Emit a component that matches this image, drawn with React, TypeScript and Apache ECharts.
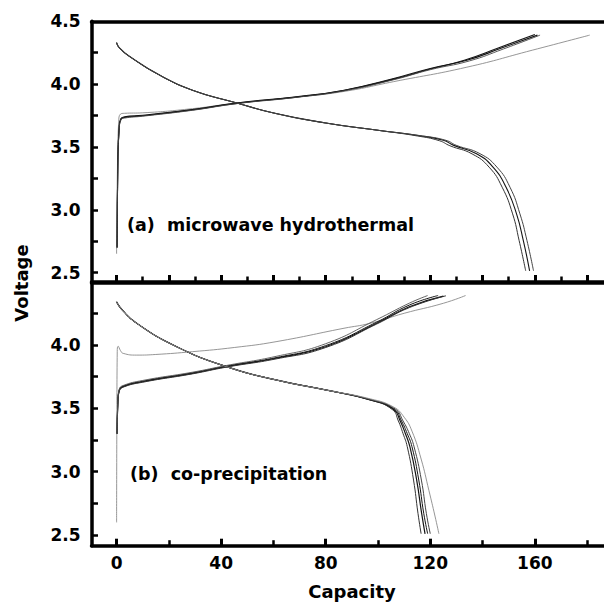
import React, { useEffect, useRef } from "react";
import * as echarts from "echarts";

// ---------- axis values ----------
const xMin = -9.6;
const xMax = 200;
const xMajorTicks = [0, 20, 40, 60, 80, 100, 120, 140, 160, 180];
const xMinorTicks = [10, 30, 50, 70, 90, 110, 130, 150, 170];
const xLabelValues = [0, 40, 80, 120, 160];
const xBottomMinor = [20, 60, 100, 140, 180];
const yTopLabels = [2.5, 3.0, 3.5, 4.0, 4.5];
const yTopTicks = [2.5, 2.75, 3.0, 3.25, 3.5, 3.75, 4.0, 4.25];
const yBotLabels = [2.5, 3.0, 3.5, 4.0];
const yBotTicks = [2.5, 2.75, 3.0, 3.25, 3.5, 3.75, 4.0, 4.25];

// ---------- panel (a): microwave hydrothermal ----------
const aChargeFirstC = [0, 0.3, 0.8, 1.5, 3, 10, 29, 46, 68, 87, 106, 134, 159, 181];
const aChargeFirstV = [2.65, 3.3, 3.7, 3.762, 3.768, 3.772, 3.805, 3.85, 3.895, 3.942, 4.02, 4.135, 4.27, 4.39];

const aCharge2C = [0.2, 0.5, 1, 1.6, 3, 10, 29, 46, 68, 87, 106, 120, 134, 147, 161];
const aCharge2V = [2.7, 3.4, 3.66, 3.725, 3.74, 3.752, 3.798, 3.85, 3.898, 3.952, 4.045, 4.125, 4.19, 4.285, 4.39];
const aCharge3C = [0.2, 0.5, 1, 1.7, 3, 10, 29, 46, 68, 87, 106, 120, 133, 146, 160];
const aCharge3V = [2.7, 3.38, 3.65, 3.72, 3.735, 3.748, 3.795, 3.847, 3.895, 3.95, 4.04, 4.12, 4.19, 4.287, 4.395];
const aCharge4C = [0.2, 0.5, 1, 1.6, 3, 10, 29, 46, 68, 87, 106, 120, 135, 148, 162];
const aCharge4V = [2.7, 3.36, 3.64, 3.715, 3.73, 3.745, 3.792, 3.845, 3.893, 3.947, 4.035, 4.115, 4.185, 4.28, 4.39];

const aDis1C = [0, 1, 5, 16.6, 29, 46, 61, 80, 100, 116, 125, 129, 137.7, 144, 149, 153, 155.6, 158];
const aDis1V = [4.33, 4.29, 4.22, 4.07, 3.952, 3.85, 3.766, 3.691, 3.633, 3.59, 3.553, 3.513, 3.447, 3.34, 3.18, 2.968, 2.755, 2.515];
const aDis2C = [0, 1, 5, 16.6, 29, 46, 61, 80, 100, 115, 123.5, 127.5, 136, 142.5, 147.5, 151.5, 154, 156.5];
const aDis2V = [4.33, 4.29, 4.22, 4.07, 3.952, 3.85, 3.766, 3.691, 3.633, 3.588, 3.55, 3.51, 3.445, 3.34, 3.18, 2.968, 2.755, 2.515];
const aDis3C = [0, 1, 5, 16.6, 29, 46, 61, 80, 100, 117, 126, 130, 139, 145.5, 150.5, 154.3, 157, 159.5];
const aDis3V = [4.33, 4.29, 4.22, 4.07, 3.952, 3.85, 3.766, 3.691, 3.633, 3.588, 3.553, 3.513, 3.447, 3.34, 3.18, 2.968, 2.755, 2.515];

// ---------- panel (b): co-precipitation ----------
const bChargeFirstC = [0, 0.1, 0.25, 0.6, 1.5, 2.5, 7.7, 15, 29, 45, 61, 87, 97, 110, 125, 133.5];
const bChargeFirstV = [2.6, 3.4, 3.95, 3.99, 3.955, 3.934, 3.92, 3.925, 3.947, 3.98, 4.026, 4.132, 4.171, 4.25, 4.329, 4.39];

const bCharge1C = [0.2, 0.5, 1, 2.5, 10, 29, 42, 61, 80, 99.5, 112, 125];
const bCharge1V = [3.3, 3.55, 3.64, 3.671, 3.71, 3.776, 3.829, 3.895, 3.986, 4.171, 4.302, 4.386];
const bCharge2C = [0.2, 0.5, 1, 2.5, 10, 29, 42, 61, 80, 99.5, 112, 123];
const bCharge2V = [3.3, 3.55, 3.645, 3.675, 3.714, 3.78, 3.833, 3.9, 3.995, 4.18, 4.315, 4.39];
const bCharge3C = [0.2, 0.5, 1, 2.5, 10, 29, 42, 61, 80, 99.5, 112, 126];
const bCharge3V = [3.3, 3.54, 3.635, 3.667, 3.706, 3.772, 3.825, 3.89, 3.98, 4.165, 4.295, 4.388];
const bCharge4C = [0.2, 0.5, 1, 2.5, 10, 29, 42, 61, 80, 99.5, 112, 119];
const bCharge4V = [3.3, 3.56, 3.65, 3.68, 3.72, 3.785, 3.838, 3.91, 4.01, 4.2, 4.33, 4.39];

const bDis1C = [0, 2, 7.7, 23, 42, 61, 80, 97, 106, 108.5, 110.5, 112.2, 114.8, 116.7, 118];
const bDis1V = [4.34, 4.28, 4.171, 3.986, 3.829, 3.724, 3.645, 3.566, 3.49, 3.4, 3.3, 3.197, 2.934, 2.671, 2.51];
const bDis2C = [0, 2, 7.7, 23, 42, 61, 80, 97, 105.5, 107.8, 109.6, 111.2, 113.6, 115.3, 116.5];
const bDis2V = [4.34, 4.28, 4.171, 3.986, 3.829, 3.724, 3.645, 3.566, 3.49, 3.4, 3.3, 3.197, 2.934, 2.671, 2.51];
const bDis3C = [0, 2, 7.7, 23, 42, 61, 80, 97, 106.3, 109, 111.2, 113, 115.6, 117.5, 119];
const bDis3V = [4.34, 4.28, 4.171, 3.986, 3.829, 3.724, 3.645, 3.568, 3.492, 3.4, 3.3, 3.197, 2.934, 2.671, 2.51];
const bDis4C = [0, 2, 7.7, 23, 42, 61, 80, 97, 106.6, 109.6, 112, 113.8, 116.6, 118.5, 120];
const bDis4V = [4.34, 4.28, 4.171, 3.986, 3.829, 3.724, 3.645, 3.57, 3.495, 3.4, 3.3, 3.197, 2.934, 2.671, 2.51];
const bDisLightC = [0, 2, 7.7, 23, 42, 61, 80, 97, 106, 110, 113, 116.5, 119.5, 121.8, 123.3];
const bDisLightV = [4.34, 4.28, 4.171, 3.986, 3.829, 3.724, 3.645, 3.575, 3.51, 3.43, 3.32, 3.1, 2.85, 2.65, 2.51];

const FONT = '"DejaVu Sans", "Liberation Sans", sans-serif';
const DARK = "#141414";
const LIGHT = "#8a8a8a";
const AXIS_W = 3.5;

function pairs(c: number[], v: number[]) {
  return c.map((x, i) => [x, v[i]]);
}

function line(c: number[], v: number[], axis: number, color: string, width: number) {
  return {
    type: "line",
    xAxisIndex: axis,
    yAxisIndex: axis,
    data: pairs(c, v),
    symbol: "none",
    showSymbol: false,
    smooth: 0.5,
    lineStyle: { color, width },
  };
}

export default function App() {
  const ref = useRef<HTMLDivElement>(null);

  useEffect(() => {
    if (!ref.current) return;
    const chart = echarts.init(ref.current, null, { renderer: "svg" });

    const gridW = (xMax - xMin) * 2.614;
    const mkGrid = (top: number, height: number) => ({
      left: 91.5,
      width: gridW,
      top,
      height,
      outerBoundsMode: "none",
      containLabel: false,
      show: false,
    });

    const mkLabel = (margin: number, values: number[], fmt: (v: number) => string) => ({
      show: true,
      color: "#000",
      fontFamily: FONT,
      fontWeight: "bold",
      fontSize: 17,
      margin,
      customValues: values,
      formatter: fmt,
    });

    const mkLine = (on: boolean) =>
      on
        ? { show: true, onZero: false, lineStyle: { color: "#000", width: AXIS_W } }
        : { show: false, onZero: false };

    const mkTick = (values: number[], length: number, width: number) => ({
      show: true,
      inside: true,
      length,
      customValues: values,
      lineStyle: { color: "#000", width },
    });

    const xAx = (gridIndex: number, position: string | null, lineOn: boolean, tick: any, label: any) => {
      const o: any = {
        type: "value",
        gridIndex,
        min: xMin,
        max: xMax,
        splitLine: { show: false },
        axisLine: mkLine(lineOn),
        axisTick: tick,
        axisLabel: label,
      };
      if (position) o.position = position;
      return o;
    };

    const yAx = (gridIndex: number, min: number, max: number, tick: any, label: any) => ({
      type: "value",
      gridIndex,
      min,
      max,
      splitLine: { show: false },
      axisLine: mkLine(true),
      axisTick: tick,
      axisLabel: label,
    });

    const hiddenY = (gridIndex: number, min: number, max: number) => ({
      type: "value",
      gridIndex,
      min,
      max,
      show: false,
    });

    const fmtInt = (v: number) => String(v);
    const fmt1 = (v: number) => v.toFixed(1);

    const option: any = {
      animation: false,
      backgroundColor: "#fff",
      grid: [
        mkGrid(21.3, 260.7),
        mkGrid(283, 262.7),
        mkGrid(21.3, 260.7),
        mkGrid(283, 262.7),
        mkGrid(21.3, 260.7),
        mkGrid(283, 262.7),
      ],
      xAxis: [
        xAx(0, null, true, mkTick(xMajorTicks, 7, 3), { show: false }),
        xAx(1, null, true, mkTick(xLabelValues, 7, 3), mkLabel(9, xLabelValues, fmtInt)),
        xAx(2, null, false, mkTick(xMinorTicks, 5.5, 2.5), { show: false }),
        xAx(3, null, false, mkTick(xBottomMinor, 5.5, 2.5), { show: false }),
        xAx(4, "top", true, { show: false }, { show: false }),
        xAx(5, "top", true, { show: false }, { show: false }),
      ],
      yAxis: [
        yAx(0, 2.426, 4.5, mkTick(yTopTicks, 6.5, 2.5), mkLabel(11, yTopLabels, fmt1)),
        yAx(1, 2.416, 4.489, mkTick(yBotTicks, 6.5, 2.5), mkLabel(11, yBotLabels, fmt1)),
        hiddenY(2, 2.426, 4.5),
        hiddenY(3, 2.416, 4.489),
        hiddenY(4, 2.426, 4.5),
        hiddenY(5, 2.416, 4.489),
      ],
      graphic: [
        {
          type: "text",
          x: 127,
          y: 225,
          style: {
            text: "(a)  microwave hydrothermal",
            font: `bold 17.5px ${FONT}`,
            fill: "#000",
            textVerticalAlign: "middle",
            verticalAlign: "middle",
          },
        },
        {
          type: "text",
          x: 130,
          y: 474,
          style: {
            text: "(b)  co-precipitation",
            font: `bold 17.5px ${FONT}`,
            fill: "#000",
            textVerticalAlign: "middle",
            verticalAlign: "middle",
          },
        },
        {
          type: "text",
          x: 352,
          y: 591,
          style: {
            text: "Capacity",
            font: `bold 18px ${FONT}`,
            fill: "#000",
            textAlign: "center",
            align: "center",
            textVerticalAlign: "middle",
            verticalAlign: "middle",
          },
        },
        {
          type: "text",
          x: 21,
          y: 283,
          rotation: Math.PI / 2,
          style: {
            text: "Voltage",
            font: `bold 18px ${FONT}`,
            fill: "#000",
            textAlign: "center",
            align: "center",
            textVerticalAlign: "middle",
            verticalAlign: "middle",
          },
        },
      ],
      series: [
        line(aChargeFirstC, aChargeFirstV, 0, LIGHT, 0.9),
        line(aCharge2C, aCharge2V, 0, DARK, 1.1),
        line(aCharge3C, aCharge3V, 0, DARK, 1.1),
        line(aCharge4C, aCharge4V, 0, "#444", 0.9),
        line(aDis1C, aDis1V, 0, DARK, 1.1),
        line(aDis2C, aDis2V, 0, "#333", 1.0),
        line(aDis3C, aDis3V, 0, "#444", 1.0),
        line(bChargeFirstC, bChargeFirstV, 1, LIGHT, 0.9),
        line(bCharge1C, bCharge1V, 1, DARK, 1.2),
        line(bCharge2C, bCharge2V, 1, DARK, 1.0),
        line(bCharge3C, bCharge3V, 1, "#333", 1.0),
        line(bCharge4C, bCharge4V, 1, "#555", 0.9),
        line(bDis1C, bDis1V, 1, DARK, 1.2),
        line(bDis2C, bDis2V, 1, "#333", 1.0),
        line(bDis3C, bDis3V, 1, DARK, 1.0),
        line(bDis4C, bDis4V, 1, "#444", 1.0),
        line(bDisLightC, bDisLightV, 1, LIGHT, 0.9),
      ],
    };

    chart.setOption(option);
    return () => chart.dispose();
  }, []);

  return (
    <div
      ref={ref}
      style={{ position: "absolute", left: 0, top: 0, width: 604, height: 604 }}
    />
  );
}
